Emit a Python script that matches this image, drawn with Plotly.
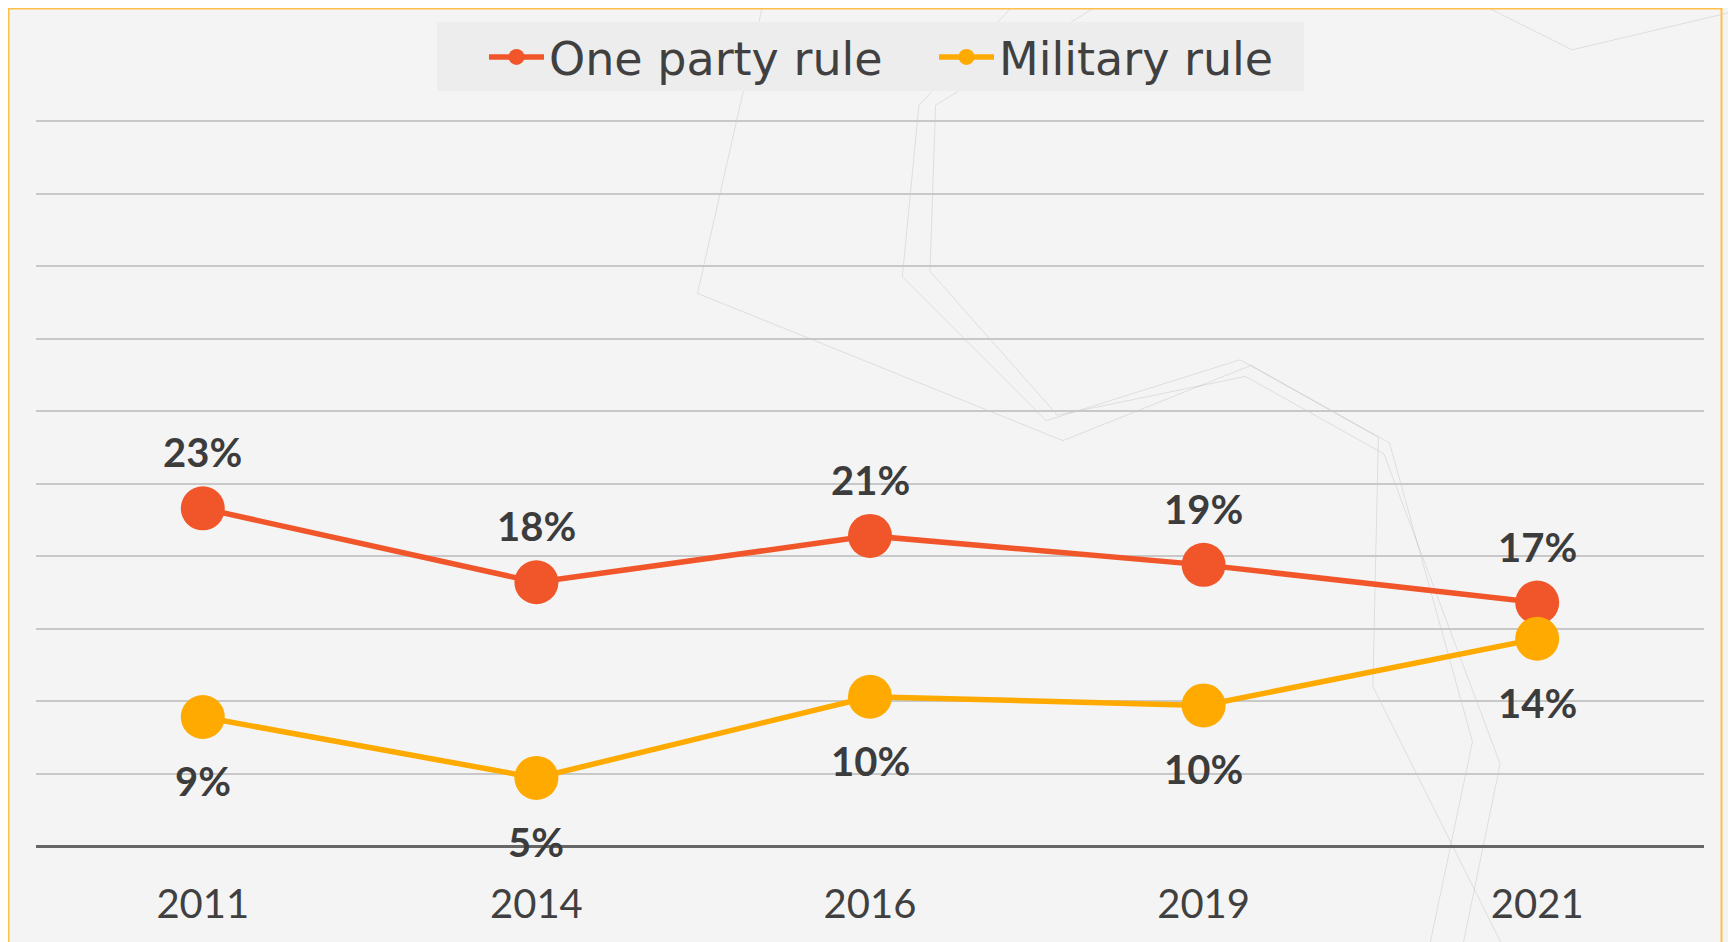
import plotly.graph_objects as go

years = ["2011", "2014", "2016", "2019", "2021"]
one_party = [23.3, 18.2, 21.4, 19.4, 16.8]
military = [8.9, 4.7, 10.3, 9.7, 14.3]
one_party_labels = ["23%", "18%", "21%", "19%", "17%"]
military_labels = ["9%", "5%", "10%", "10%", "14%"]
series_names = ["One party rule", "Military rule"]
colors = ["#F1562A", "#FFAA00"]

W, H = 1736, 942
OFF = 8  # page body margin
ML, MR, MT, MB = 28, 40, 112, 104
pw = W - ML - MR
ph = H - MT - MB

fig = go.Figure()
for name, vals, col in zip(series_names, [one_party, military], colors):
    fig.add_trace(go.Scatter(
        x=list(range(len(years))), y=vals, name=name, mode="lines+markers",
        line=dict(color=col, width=5.5),
        marker=dict(color=col, size=44),
    ))

lab_font = dict(family="Lato", size=40, color="#3C3C3C", weight=700)
ann = []
for i, (v, t) in enumerate(zip(one_party, one_party_labels)):
    ann.append(dict(x=i, y=v, xref="x", yref="y", text=t, showarrow=False,
                    yshift=56, font=lab_font))
for i, (v, t) in enumerate(zip(military, military_labels)):
    ann.append(dict(x=i, y=v, xref="x", yref="y", text=t, showarrow=False,
                    yshift=-64, font=lab_font))

def px_x(p):
    return (p - OFF - ML) / pw

def px_y(p):
    return (H - MB - (p - OFF)) / ph

S = 1736 / 1568
deco_paths = [
    [(690, 0), (630, 265), (960, 398), (1130, 330), (1255, 400), (1330, 670), (1290, 860)],
    [(920, 0), (830, 95), (815, 250), (945, 380), (1120, 325), (1245, 395), (1240, 620), (1360, 860)],
    [(1000, 0), (845, 95), (840, 245), (955, 375), (1125, 340), (1250, 410), (1355, 690), (1320, 860)],
    [(1330, 0), (1420, 45), (1568, 10)],
]
shapes = []
for pts in deco_paths:
    d = "M" + " L".join(f"{px_x(x * S):.5f},{px_y(y * S):.5f}" for x, y in pts)
    shapes.append(dict(type="path", xref="paper", yref="paper", path=d,
                       line=dict(color="rgba(0,0,0,0.09)", width=1), layer="below"))

shapes.append(dict(type="rect", xref="paper", yref="paper",
                   x0=px_x(437), x1=px_x(1304), y0=px_y(91), y1=px_y(22),
                   line=dict(width=0), fillcolor="#EDEDED", layer="below"))
shapes.append(dict(type="rect", xref="paper", yref="paper",
                   x0=px_x(8.5), x1=px_x(1721.5), y0=px_y(990), y1=px_y(8.5),
                   line=dict(color="#FFC04A", width=2), fillcolor="rgba(0,0,0,0)", layer="above"))

fig.update_layout(
    width=W, height=H,
    margin=dict(l=ML, r=MR, t=MT, b=MB),
    paper_bgcolor="#F4F4F4", plot_bgcolor="#F4F4F4",
    showlegend=True,
    legend=dict(orientation="h", x=px_x(484), xanchor="left", y=px_y(57), yanchor="middle",
                font=dict(family="DejaVu Sans", size=46, color="#404040"),
                bgcolor="rgba(0,0,0,0)", borderwidth=0, itemwidth=55,
                entrywidth=380, entrywidthmode="pixels"),
    xaxis=dict(range=[-0.5, 4.5], showgrid=False, showline=False,
               zeroline=False, ticks="", ticklabelstandoff=31,
               tickmode="array", tickvals=list(range(len(years))), ticktext=years,
               tickfont=dict(family="Lato", size=40, color="#404040")),
    yaxis=dict(range=[0, 50.1], dtick=5, showticklabels=False, showgrid=True,
               gridcolor="#C8C8C8", gridwidth=2, zeroline=True,
               zerolinecolor="#666666", zerolinewidth=3, showline=False),
    annotations=ann,
    shapes=shapes,
)

fig.write_html("out.html")
